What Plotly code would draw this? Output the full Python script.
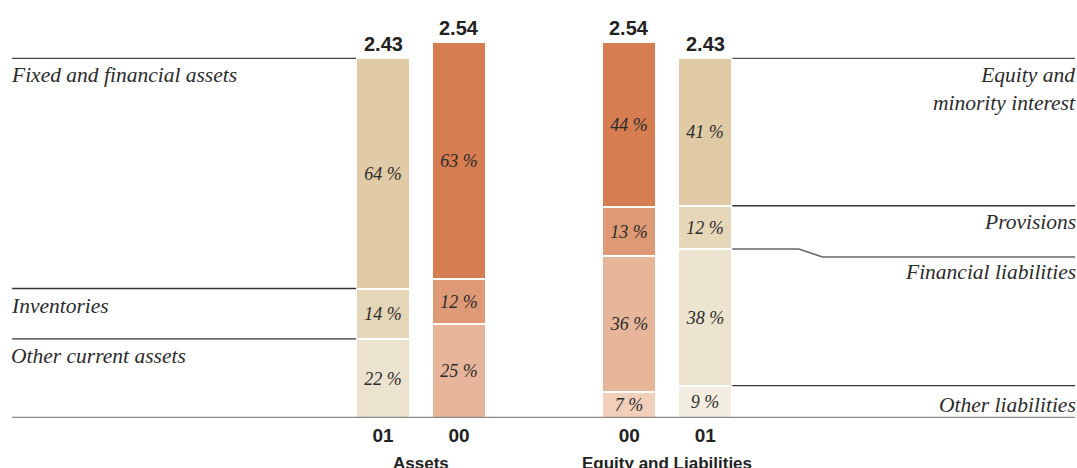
import plotly.graph_objects as go

# Balance sheet structure, totals in billions
years = ["01", "00", "00", "01"]
totals = [2.43, 2.54, 2.54, 2.43]
groups = ["Assets", "Equity and Liabilities"]

asset_items = ["Other current assets", "Inventories", "Fixed and financial assets"]
asset_share_01 = [22, 14, 64]
asset_share_00 = [25, 12, 63]

liab_items = ["Other liabilities", "Financial liabilities", "Provisions",
              "Equity and minority interest"]
liab_share_00 = [7, 36, 13, 44]
liab_share_01 = [9, 38, 12, 41]

# layout of the four columns (one unit = spacing inside a group)
pos = [0.0, 1.0, 3.24, 4.24]
bar_w = 0.71
x_lo, x_hi = -5.04, 9.13
label_left, label_right = -4.88, 9.105

asset_colors_01 = ["#ECE3CF", "#E5D6B8", "#E0CBA6"]
asset_colors_00 = ["#E7B69A", "#DE9A74", "#D67D51"]
liab_colors_00 = ["#F2CFBA", "#E7B69A", "#DE9A74", "#D67D51"]
liab_colors_01 = ["#F4EEE1", "#EDE4D0", "#E6D7B9", "#E0CBA6"]

serif = "Liberation Serif"
sans = "Liberation Sans"
ink = "#2b2b2b"

fig = go.Figure()


def add_stack(items, shares_a, shares_b, colors_a, colors_b, xs, tot):
    for i, name in enumerate(items):
        sa, sb = shares_a[i], shares_b[i]
        fig.add_trace(go.Bar(
            x=xs,
            y=[tot[0] * sa / 100, tot[1] * sb / 100],
            width=bar_w,
            name=name,
            text=[f"{sa} %", f"{sb} %"],
            textposition="inside",
            insidetextanchor="middle",
            textangle=0,
            constraintext="none",
            textfont=dict(family=serif, size=18, color=ink, style="italic"),
            marker=dict(color=[colors_a[i], colors_b[i]],
                        line=dict(color="white", width=2)),
            hoverinfo="skip",
        ))


add_stack(asset_items, asset_share_01, asset_share_00,
          asset_colors_01, asset_colors_00, pos[0:2], totals[0:2])
add_stack(liab_items, liab_share_00, liab_share_01,
          liab_colors_00, liab_colors_01, pos[2:4], totals[2:4])

shapes = []
annotations = []
label_font = dict(family=serif, size=21.5, color=ink, style="italic")


def cum(tot, shares, k):
    return tot * sum(shares[:k]) / 100


# left leader lines, anchored to the 01 assets column
left_edge = pos[0] - bar_w / 2
for k, name in zip([3, 2, 1], ["Fixed and financial assets", "Inventories",
                               "Other current assets"]):
    yv = cum(totals[0], asset_share_01, k)
    shapes.append(dict(type="line", xref="x", yref="y", x0=label_left, x1=left_edge,
                       y0=yv, y1=yv,
                       line=dict(color="#444" if k == 3 else "#333", width=1.3)))
    annotations.append(dict(x=label_left, y=yv, xref="x", yref="y", text=name,
                            xanchor="left", yanchor="middle", yshift=-17, xshift=-3,
                            showarrow=False, font=label_font))

# right leader lines, anchored to the 01 liabilities column
right_edge = pos[3] + bar_w / 2
y_top = totals[3]
y_prov = cum(totals[3], liab_share_01, 3)
y_fin = cum(totals[3], liab_share_01, 2)
y_oth = cum(totals[3], liab_share_01, 1)
for yv, col in [(y_top, "#555"), (y_prov, "#333"), (y_oth, "#333")]:
    shapes.append(dict(type="line", xref="x", yref="y", x0=right_edge, x1=label_right,
                       y0=yv, y1=yv, line=dict(color=col, width=1.3)))

# financial liabilities line with a small jog down
jog = 8 * 2.54 / 376
x_j0, x_j1 = 5.47, 5.78
shapes.append(dict(type="path", xref="x", yref="y",
                   path=f"M {right_edge} {y_fin} L {x_j0} {y_fin} L {x_j1} {y_fin - jog} "
                        f"L {label_right} {y_fin - jog}",
                   line=dict(color="#666", width=1.6)))

for yv, txt, dy in [(y_top, "Equity and<br>minority interest", -31),
                    (y_prov, "Provisions", -16),
                    (y_fin - jog, "Financial liabilities", -15),
                    (y_oth, "Other liabilities", -19)]:
    annotations.append(dict(x=label_right, y=yv, xref="x", yref="y", text=txt,
                            xanchor="right", yanchor="middle", yshift=dy, xshift=3,
                            showarrow=False, align="right", font=label_font))

# baseline
shapes.append(dict(type="line", xref="x", yref="y", x0=label_left, x1=label_right,
                   y0=0, y1=0, line=dict(color="#8a8a8a", width=2.5)))

# totals above the columns
for xv, t in zip(pos, totals):
    annotations.append(dict(x=xv, y=t, xref="x", yref="y", text=f"{t:.2f}",
                            yanchor="bottom", yshift=1, showarrow=False,
                            font=dict(family=sans, size=20, color="#222", weight="bold")))

# group titles
for xv, g in zip([(pos[0] + pos[1]) / 2, (pos[2] + pos[3]) / 2], groups):
    annotations.append(dict(x=xv, y=0, xref="x", yref="y", text=g,
                            yanchor="middle", yshift=-45, showarrow=False,
                            font=dict(family=sans, size=17, color="#222", weight="bold")))

fig.update_layout(
    width=1077, height=468,
    margin=dict(l=0, r=0, t=42, b=50),
    barmode="stack",
    bargap=0,
    showlegend=False,
    plot_bgcolor="white",
    paper_bgcolor="white",
    xaxis=dict(range=[x_lo, x_hi], tickmode="array", tickvals=pos, ticktext=years,
               showgrid=False, zeroline=False, showline=False, ticks="",
               ticklabelstandoff=4,
               tickfont=dict(family=sans, size=19, color="#222", weight="bold")),
    yaxis=dict(range=[0, 2.54], visible=False, showgrid=False, zeroline=False),
    shapes=shapes,
    annotations=annotations,
)

fig.write_html("out.html")
